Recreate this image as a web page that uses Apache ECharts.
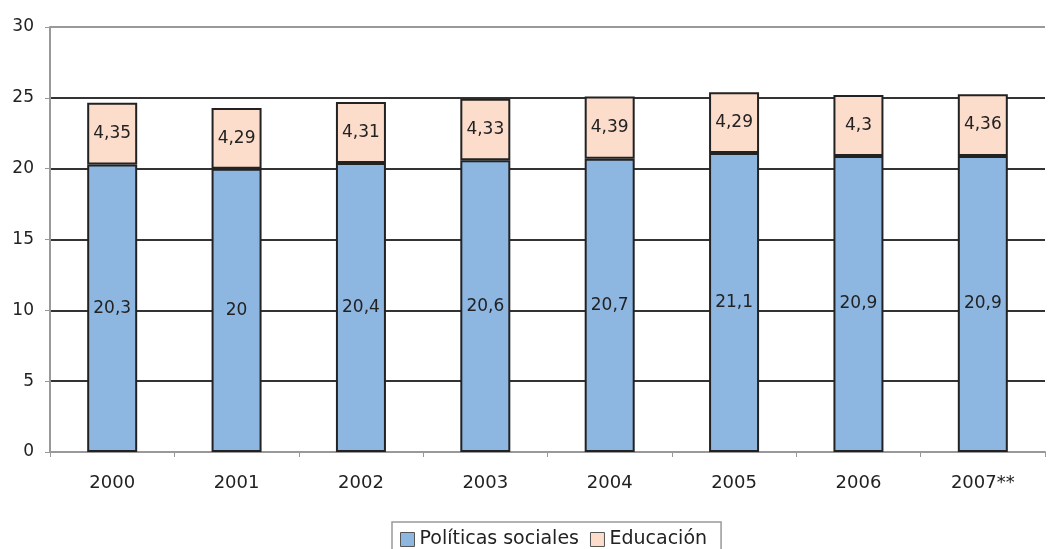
<!DOCTYPE html>
<html><head><meta charset="utf-8">
<script src="https://cdn.jsdelivr.net/npm/echarts@6/dist/echarts.min.js"></script>
<style>html,body{margin:0;padding:0;background:#fff}#c{width:1052px;height:549px}</style>
</head><body><div id="c"></div>
<script>
const categories = ['2000','2001','2002','2003','2004','2005','2006','2007**'];
const politicasSociales = [20.3, 20, 20.4, 20.6, 20.7, 21.1, 20.9, 20.9];
const educacion = [4.35, 4.29, 4.31, 4.33, 4.39, 4.29, 4.3, 4.36];
const yTicks = [0, 5, 10, 15, 20, 25, 30];

const FONT = 'DejaVu Sans, Arial, sans-serif';
const fmt = p => String(p.value).replace('.', ',');
const chart = echarts.init(document.getElementById('c'));
chart.setOption({
  animation: false,
  textStyle: { fontFamily: FONT },
  grid: { left: 50, right: 7, top: 27, bottom: 97 },
  legend: {
    top: 522, left: 392,
    data: ['Políticas sociales', 'Educación'],
    icon: 'rect', itemWidth: 14, itemHeight: 14, itemGap: 11,
    itemStyle: { borderColor: '#555', borderWidth: 1 },
    borderColor: '#999', borderWidth: 1.5, padding: [8, 14, 4, 8],
    textStyle: { fontSize: 19, color: '#222', fontFamily: FONT }
  },
  xAxis: {
    type: 'category', data: categories,
    axisLine: { lineStyle: { color: '#999', width: 2 } },
    axisTick: { show: true, length: 5, lineStyle: { color: '#999' } },
    axisLabel: { fontSize: 18, color: '#222', margin: 22 }
  },
  yAxis: {
    type: 'value', min: yTicks[0], max: yTicks[yTicks.length - 1], interval: 5,
    axisLine: { show: true, lineStyle: { color: '#999', width: 2 } },
    axisTick: { show: true, length: 5, lineStyle: { color: '#999' } },
    axisLabel: { fontSize: 17, color: '#222', margin: 16 },
    splitLine: { lineStyle: { color: ['#999', '#333', '#333', '#333', '#333', '#333', '#999'], width: 2 } }
  },
  series: [
    {
      name: 'Políticas sociales', type: 'bar', stack: 'total', data: politicasSociales,
      barWidth: 50,
      itemStyle: { color: '#8DB6E0', borderColor: '#222', borderWidth: 2 },
      label: { show: true, position: 'inside', formatter: fmt, fontSize: 17, color: '#222' }
    },
    {
      name: 'Educación', type: 'bar', stack: 'total', data: educacion,
      barWidth: 50,
      itemStyle: { color: '#FCDCCB', borderColor: '#222', borderWidth: 2 },
      label: { show: true, position: 'inside', formatter: fmt, fontSize: 17, color: '#222' }
    }
  ]
});
</script></body></html>
